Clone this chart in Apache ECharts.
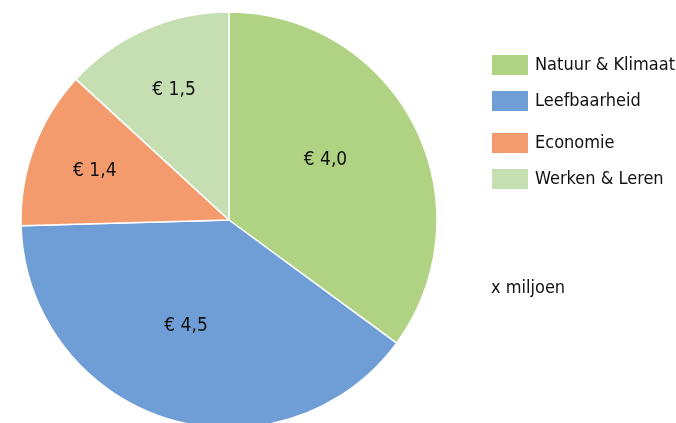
<!DOCTYPE html>
<html>
<head>
<meta charset="utf-8">
<script src="https://cdn.jsdelivr.net/npm/echarts@6/dist/echarts.min.js"></script>
<style>
  html, body { margin: 0; padding: 0; background: #fff; }
  #chart { width: 676px; height: 423px; }
</style>
</head>
<body>
<div id="chart"></div>
<script>
const categories = ["Natuur & Klimaat", "Leefbaarheid", "Economie", "Werken & Leren"];
const values = [4.0, 4.5, 1.4, 1.5];
const colors = ["#b0d283", "#6e9ed5", "#f39b6d", "#c5dfb3"];
const unitText = "x miljoen";

// kleine verschuiving van de labels zoals in het origineel
const labelShift = [[1, -12], [-11, 4], [-34, -11], [-12, -32]];
const legendTops = [53, 89, 131, 167];

const font = "'DejaVu Sans Condensed', 'DejaVu Sans', sans-serif";

const chart = echarts.init(document.getElementById("chart"));

const legends = categories.map((name, i) => ({
  data: [name],
  left: 490,
  top: legendTops[i],
  padding: 0,
  orient: "vertical",
  itemWidth: 38,
  itemHeight: 22,
  itemGap: 0,
  icon: "rect",
  selectedMode: false,
  textStyle: {
    fontFamily: font,
    fontSize: 18,
    color: "#111",
    textShadowColor: "#111",
    textShadowBlur: 0,
    padding: [0, 0, 0, 1],
  },
}));

const option = {
  animation: false,
  color: colors,
  legend: legends,
  graphic: [
    {
      type: "text",
      left: 491,
      top: 279,
      style: {
        text: unitText,
        font: "18px " + font,
        fill: "#111",
      },
    },
  ],
  series: [
    {
      type: "pie",
      center: [229, 220],
      radius: 208,
      startAngle: 90,
      clockwise: true,
      itemStyle: {
        borderColor: "#fff",
        borderWidth: 1.5,
      },
      label: {
        show: true,
        position: "inside",
        fontFamily: font,
        fontSize: 19,
        color: "#111",
        formatter: (p) => "€ " + p.value.toFixed(1).replace(".", ","),
      },
      labelLayout: (p) => ({
        dx: labelShift[p.dataIndex][0],
        dy: labelShift[p.dataIndex][1],
      }),
      emphasis: { disabled: true },
      data: categories.map((name, i) => ({ name: name, value: values[i] })),
    },
  ],
};

chart.setOption(option);
</script>
</body>
</html>
